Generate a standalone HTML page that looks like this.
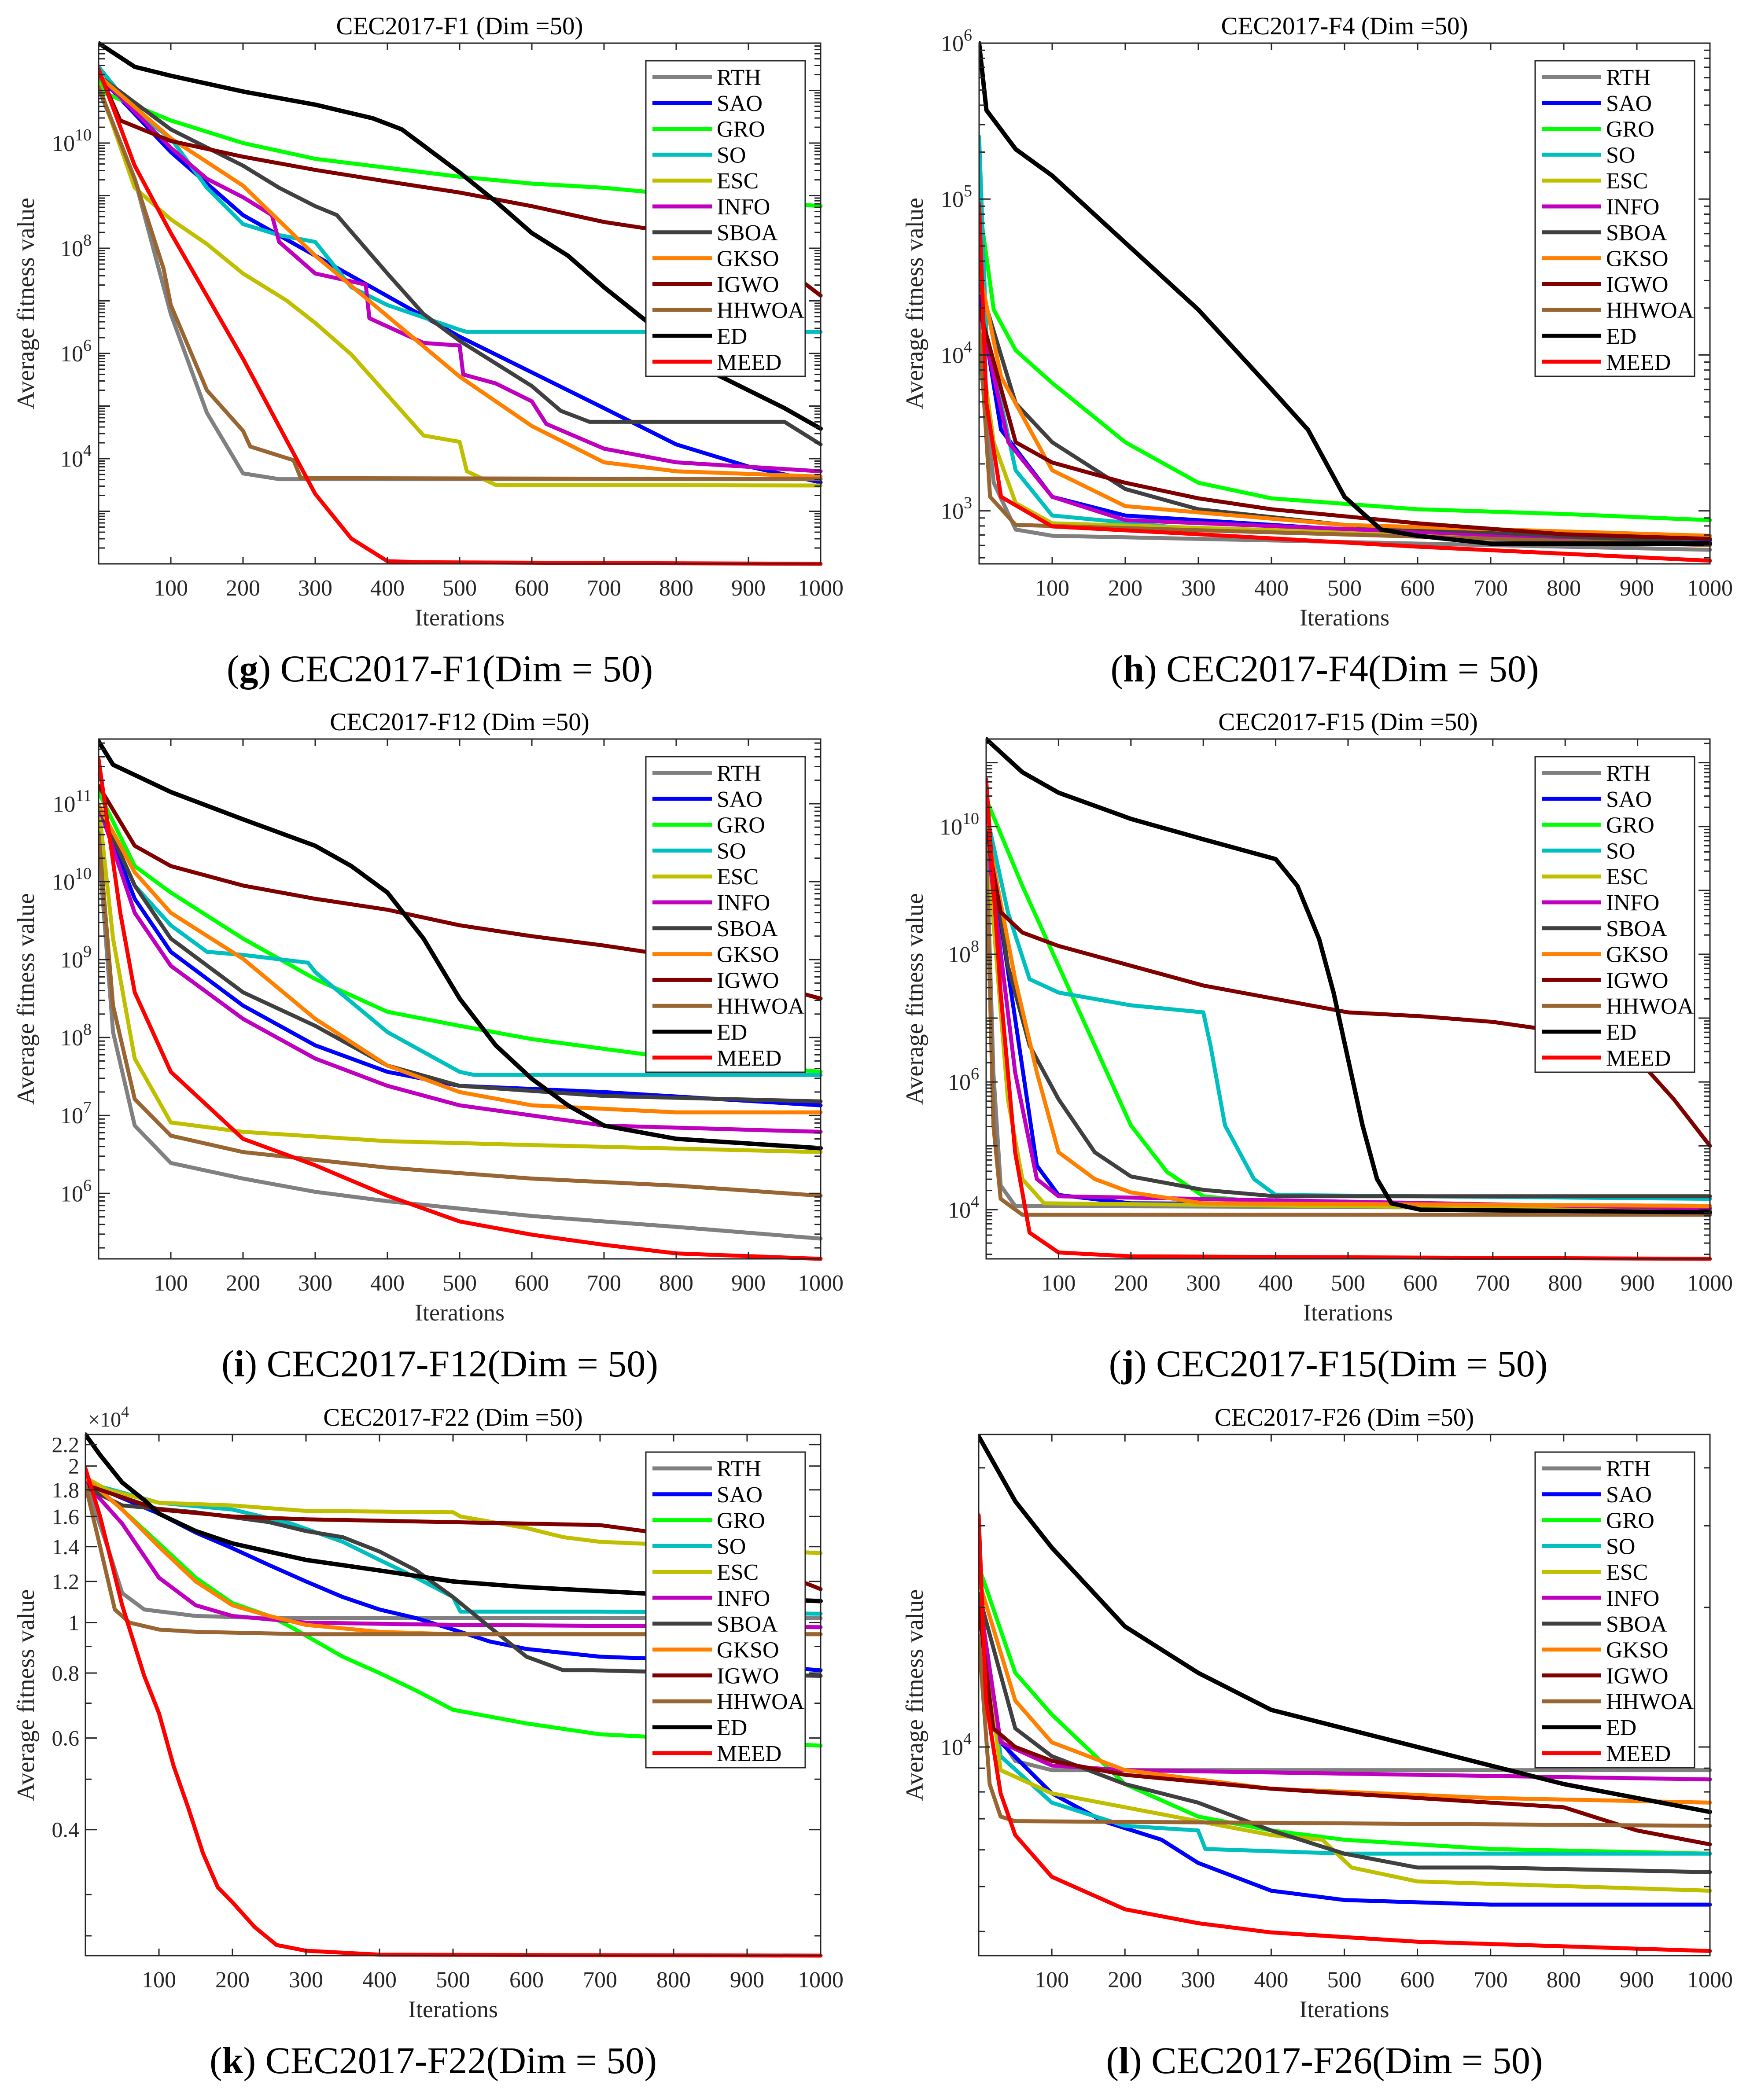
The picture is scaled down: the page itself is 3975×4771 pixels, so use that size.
<!DOCTYPE html>
<html><head><meta charset="utf-8"><title>CEC2017 convergence curves</title>
<style>html,body{margin:0;padding:0;background:#fff;}svg{display:block;}</style></head>
<body>
<svg id="fig" xmlns="http://www.w3.org/2000/svg" width="3975" height="4771" viewBox="0 0 3975 4771" font-family="'Liberation Serif', serif"></svg>
<script>
// ---------- data (iteration, log10 value) ----------
const ALGS = ['RTH','SAO','GRO','SO','ESC','INFO','SBOA','GKSO','IGWO','HHWOA','ED','MEED'];
const X_TICKS = [100,200,300,400,500,600,700,800,900,1000];

// F1
const F1_RTH = [[0,11.03],[50,9.32],[100,6.75],[150,4.87],[200,3.72],[250,3.61],[1000,3.61]];
const F1_SAO = [[0,11.28],[100,9.83],[200,8.63],[300,7.86],[400,7.09],[500,6.32],[600,5.64],[700,4.96],[800,4.27],[900,3.85],[1000,3.55]];
const F1_GRO = [[0,11.2],[10,10.94],[100,10.43],[200,10.0],[300,9.7],[400,9.53],[500,9.36],[600,9.23],[700,9.15],[800,9.02],[1000,8.8]];
const F1_SO = [[0,11.45],[50,10.6],[100,10.09],[150,9.15],[200,8.46],[250,8.25],[300,8.12],[310,7.95],[350,7.26],[400,6.92],[500,6.45],[510,6.41],[1000,6.41]];
const F1_ESC = [[0,11.11],[50,9.15],[100,8.55],[150,8.08],[200,7.52],[260,7.01],[300,6.58],[350,5.98],[400,5.21],[450,4.44],[500,4.32],[510,3.76],[550,3.5],[1000,3.49]];
const F1_INFO = [[0,11.28],[100,9.91],[150,9.32],[200,8.97],[240,8.63],[250,8.12],[300,7.52],[370,7.31],[375,6.67],[450,6.2],[500,6.15],[505,5.6],[550,5.43],[600,5.09],[620,4.66],[700,4.19],[800,3.93],[1000,3.76]];
const F1_SBOA = [[0,11.28],[100,10.26],[200,9.57],[250,9.15],[300,8.8],[330,8.63],[400,7.52],[450,6.75],[500,6.24],[550,5.81],[600,5.38],[640,4.91],[680,4.7],[950,4.7],[1000,4.27]];
const F1_GKSO = [[0,11.28],[100,10.09],[200,9.19],[300,7.86],[400,6.71],[500,5.56],[600,4.62],[700,3.93],[800,3.76],[1000,3.66]];
const F1_IGWO = [[0,11.37],[30,10.43],[100,10.04],[200,9.74],[300,9.49],[400,9.27],[500,9.06],[600,8.8],[700,8.5],[800,8.29],[900,8.1],[960,7.52],[1000,7.1]];
const F1_HHWOA = [[0,11.07],[50,9.32],[90,7.61],[100,6.92],[150,5.3],[200,4.53],[210,4.23],[270,3.97],[280,3.63],[1000,3.61]];
const F1_ED = [[0,11.9],[50,11.45],[100,11.28],[200,10.98],[300,10.73],[380,10.47],[420,10.26],[500,9.44],[550,8.89],[600,8.29],[650,7.86],[700,7.26],[750,6.71],[850,5.64],[900,5.3],[950,4.96],[1000,4.57]];
const F1_MEED = [[0,11.41],[50,9.57],[100,8.29],[200,5.9],[300,3.33],[350,2.48],[400,2.05],[450,2.03],[1000,2.0]];

// F4
const F4_RTH = [[0,4.03],[20,3.18],[50,2.88],[100,2.84],[1000,2.75]];
const F4_SAO = [[0,4.38],[30,3.52],[100,3.09],[200,2.97],[500,2.88],[1000,2.81]];
const F4_GRO = [[0,4.97],[20,4.29],[50,4.03],[100,3.82],[200,3.44],[300,3.18],[400,3.08],[600,3.01],[800,2.98],[1000,2.94]];
const F4_SO = [[0,5.4],[10,4.12],[50,3.26],[100,2.97],[300,2.88],[1000,2.82]];
const F4_ESC = [[0,4.12],[20,3.44],[50,3.05],[100,2.92],[1000,2.79]];
const F4_INFO = [[0,4.29],[40,3.44],[100,3.09],[200,2.94],[1000,2.79]];
const F4_SBOA = [[0,4.46],[50,3.69],[100,3.44],[200,3.14],[300,3.01],[500,2.91],[1000,2.79]];
const F4_GKSO = [[0,4.55],[30,3.86],[100,3.26],[200,3.03],[500,2.91],[1000,2.84]];
const F4_IGWO = [[0,4.3],[50,3.44],[100,3.31],[200,3.18],[300,3.08],[400,3.01],[600,2.92],[800,2.85],[1000,2.82]];
const F4_HHWOA = [[0,4.2],[15,3.09],[50,2.91],[1000,2.78]];
const F4_ED = [[0,6.0],[10,5.57],[50,5.32],[100,5.15],[200,4.72],[300,4.29],[400,3.78],[450,3.52],[500,3.09],[550,2.88],[600,2.84],[700,2.79],[1000,2.79]];
const F4_MEED = [[0,4.97],[10,3.69],[30,3.09],[100,2.9],[300,2.85],[600,2.77],[1000,2.68]];

// F12
const F12_RTH = [[0,10.46],[20,8.07],[50,6.87],[100,6.39],[200,6.19],[300,6.02],[400,5.9],[600,5.71],[800,5.57],[1000,5.42]];
const F12_SAO = [[0,10.98],[50,9.78],[100,9.1],[200,8.41],[300,7.9],[400,7.56],[500,7.38],[700,7.3],[1000,7.13]];
const F12_GRO = [[0,11.15],[50,10.2],[100,9.86],[200,9.27],[300,8.75],[400,8.33],[500,8.15],[600,7.98],[800,7.73],[1000,7.56]];
const F12_SO = [[0,10.98],[50,9.95],[100,9.44],[150,9.1],[200,9.06],[290,8.96],[300,8.84],[400,8.07],[500,7.56],[520,7.52],[1000,7.52]];
const F12_ESC = [[0,10.98],[20,9.27],[50,7.73],[100,6.91],[200,6.79],[400,6.67],[600,6.62],[1000,6.53]];
const F12_INFO = [[0,10.98],[50,9.6],[100,8.92],[200,8.24],[300,7.73],[400,7.38],[500,7.13],[700,6.87],[1000,6.79]];
const F12_SBOA = [[0,10.98],[50,9.95],[100,9.27],[200,8.58],[300,8.15],[400,7.64],[500,7.38],[700,7.25],[1000,7.18]];
const F12_GKSO = [[0,10.98],[50,10.12],[100,9.6],[200,9.01],[300,8.24],[400,7.64],[500,7.3],[600,7.13],[800,7.04],[1000,7.04]];
const F12_IGWO = [[0,11.23],[50,10.46],[100,10.2],[200,9.95],[300,9.78],[400,9.64],[500,9.44],[600,9.3],[700,9.18],[800,9.04],[900,8.75],[1000,8.5]];
const F12_HHWOA = [[0,10.63],[20,8.41],[50,7.21],[100,6.74],[200,6.53],[400,6.33],[600,6.19],[800,6.1],[1000,5.97]];
const F12_ED = [[0,11.8],[20,11.5],[100,11.15],[200,10.8],[300,10.46],[350,10.2],[400,9.86],[450,9.27],[500,8.5],[550,7.9],[600,7.47],[650,7.13],[700,6.87],[800,6.7],[1000,6.58]];
const F12_MEED = [[0,11.57],[30,9.6],[50,8.58],[100,7.56],[200,6.7],[300,6.36],[400,5.97],[500,5.64],[600,5.47],[700,5.34],[800,5.23],[1000,5.16]];

// F15
const F15_RTH = [[0,9.91],[10,6.15],[20,4.38],[40,4.06],[1000,4.02]];
const F15_SAO = [[0,10.01],[40,6.99],[70,4.69],[100,4.23],[200,4.1],[1000,4.06]];
const F15_GRO = [[0,10.43],[50,9.07],[100,7.82],[150,6.57],[200,5.32],[250,4.59],[300,4.21],[400,4.1],[1000,4.0]];
const F15_SO = [[0,10.22],[30,8.66],[60,7.61],[100,7.4],[200,7.2],[300,7.09],[310,6.57],[330,5.32],[370,4.48],[400,4.23],[1000,4.17]];
const F15_ESC = [[0,9.91],[30,5.73],[50,4.48],[80,4.1],[1000,4.0]];
const F15_INFO = [[0,9.91],[40,6.15],[70,4.48],[100,4.21],[1000,4.02]];
const F15_SBOA = [[0,10.12],[30,7.82],[60,6.57],[100,5.73],[150,4.9],[200,4.52],[300,4.31],[400,4.21],[1000,4.21]];
const F15_GKSO = [[0,10.01],[40,7.61],[70,6.15],[100,4.9],[150,4.48],[200,4.27],[300,4.1],[1000,4.06]];
const F15_IGWO = [[0,9.91],[20,8.66],[50,8.34],[100,8.13],[200,7.82],[300,7.51],[400,7.3],[500,7.09],[600,7.03],[700,6.94],[800,6.78],[900,6.36],[950,5.73],[1000,5.0]];
const F15_HHWOA = [[0,9.7],[10,5.32],[20,4.17],[50,3.92],[1000,3.92]];
const F15_ED = [[0,11.37],[50,10.85],[100,10.53],[200,10.12],[300,9.8],[400,9.49],[430,9.07],[460,8.24],[480,7.4],[500,6.36],[520,5.32],[540,4.48],[560,4.1],[600,4.0],[1000,3.96]];
const F15_MEED = [[0,10.74],[20,7.4],[40,4.9],[60,3.64],[100,3.33],[200,3.27],[1000,3.23]];

// F22 (values x 10^4)
const F22_RTH = [[0,1.86],[30,1.4],[50,1.14],[80,1.06],[150,1.03],[250,1.02],[1000,1.02]];
const F22_SAO = [[0,1.86],[100,1.62],[150,1.49],[200,1.39],[250,1.29],[300,1.2],[350,1.12],[400,1.06],[450,1.02],[500,0.97],[550,0.92],[600,0.89],[700,0.86],[800,0.85],[1000,0.81]];
const F22_GRO = [[0,1.9],[50,1.65],[100,1.42],[150,1.22],[200,1.09],[250,1.03],[280,0.98],[350,0.86],[400,0.8],[450,0.74],[500,0.68],[600,0.64],[700,0.61],[800,0.6],[1000,0.58]];
const F22_SO = [[0,1.86],[100,1.7],[200,1.65],[280,1.55],[350,1.43],[400,1.32],[450,1.22],[500,1.12],[510,1.05],[700,1.05],[1000,1.04]];
const F22_ESC = [[0,1.9],[30,1.8],[100,1.7],[200,1.68],[300,1.64],[500,1.63],[510,1.6],[600,1.52],[650,1.46],[700,1.43],[800,1.41],[1000,1.36]];
const F22_INFO = [[0,1.86],[50,1.55],[100,1.22],[150,1.08],[200,1.03],[300,1.0],[500,0.99],[1000,0.98]];
const F22_SBOA = [[0,1.82],[50,1.68],[150,1.63],[250,1.56],[300,1.5],[350,1.46],[400,1.37],[450,1.26],[500,1.12],[550,0.98],[600,0.86],[650,0.81],[690,0.81],[1000,0.79]];
const F22_GKSO = [[0,1.9],[50,1.65],[100,1.4],[150,1.2],[200,1.08],[250,1.03],[300,0.99],[400,0.96],[500,0.95],[1000,0.95]];
const F22_IGWO = [[0,1.84],[100,1.65],[200,1.6],[300,1.58],[500,1.56],[600,1.55],[700,1.54],[760,1.5],[900,1.32],[1000,1.16]];
const F22_HHWOA = [[0,1.84],[20,1.4],[40,1.06],[60,1.0],[100,0.97],[150,0.96],[300,0.95],[1000,0.95]];
const F22_ED = [[0,2.3],[20,2.1],[50,1.86],[80,1.72],[100,1.62],[150,1.5],[200,1.42],[300,1.32],[400,1.26],[500,1.2],[600,1.17],[700,1.15],[800,1.13],[1000,1.1]];
const F22_MEED = [[0,1.98],[20,1.6],[50,1.08],[80,0.79],[100,0.67],[120,0.53],[140,0.44],[160,0.36],[180,0.31],[200,0.29],[230,0.26],[260,0.24],[300,0.234],[400,0.23],[1000,0.229]];

// F26
const F26_RTH = [[0,4.33],[20,4.04],[50,3.97],[100,3.95],[1000,3.95]];
const F26_SAO = [[0,4.3],[30,4.01],[100,3.9],[170,3.84],[250,3.8],[300,3.75],[400,3.69],[500,3.67],[700,3.66],[1000,3.66]];
const F26_GRO = [[0,4.39],[50,4.16],[100,4.07],[200,3.92],[300,3.85],[400,3.82],[500,3.8],[700,3.78],[1000,3.77]];
const F26_SO = [[0,4.33],[30,3.98],[100,3.88],[200,3.83],[300,3.82],[310,3.78],[500,3.77],[1000,3.77]];
const F26_ESC = [[0,4.33],[30,3.95],[100,3.9],[200,3.87],[300,3.84],[400,3.81],[470,3.8],[510,3.74],[600,3.71],[800,3.7],[1000,3.69]];
const F26_INFO = [[0,4.33],[30,4.01],[100,3.96],[200,3.95],[1000,3.93]];
const F26_SBOA = [[0,4.33],[50,4.04],[100,3.98],[200,3.92],[300,3.88],[400,3.82],[500,3.77],[600,3.74],[700,3.74],[1000,3.73]];
const F26_GKSO = [[0,4.36],[50,4.1],[100,4.01],[200,3.95],[400,3.91],[700,3.89],[1000,3.88]];
const F26_IGWO = [[0,4.3],[20,4.04],[50,4.0],[100,3.97],[200,3.94],[400,3.91],[600,3.89],[800,3.87],[900,3.82],[1000,3.79]];
const F26_HHWOA = [[0,4.24],[15,3.92],[30,3.85],[50,3.84],[1000,3.83]];
const F26_ED = [[0,4.67],[50,4.53],[100,4.43],[200,4.26],[300,4.16],[400,4.08],[500,4.04],[600,4.0],[700,3.96],[800,3.92],[900,3.89],[1000,3.86]];
const F26_MEED = [[0,4.5],[10,4.1],[30,3.9],[50,3.81],[100,3.72],[200,3.65],[300,3.62],[400,3.6],[600,3.58],[800,3.57],[1000,3.56]];

const F1_LABELS = [4,6,8,10];
const F4_LABELS = [3,4,5,6];
const F12_LABELS = [6,7,8,9,10,11];
const F15_LABELS = [4,6,8,10];
const F22_LABELS = [0.4,0.6,0.8,1,1.2,1.4,1.6,1.8,2,2.2];
const F22_LABEL_TEXT = ['0.4','0.6','0.8','1','1.2','1.4','1.6','1.8','2','2.2'];
const F26_LABELS = [4];

// ---------- layout ----------
const COLORS = {RTH:'#808080',SAO:'#0000ff',GRO:'#00ff00',SO:'#00bfbf',ESC:'#bfbf00',INFO:'#bf00bf',SBOA:'#404040',GKSO:'#ff8000',IGWO:'#800000',HHWOA:'#996633',ED:'#000000',MEED:'#ff0000'};
const NS = 'http://www.w3.org/2000/svg';
const svg = document.getElementById('fig');
function mk(tag, attrs, parent){const e=document.createElementNS(NS,tag);for(const k in attrs)e.setAttribute(k,attrs[k]);(parent||svg).appendChild(e);return e;}

const PANELS = [
 {id:'f1', title:'CEC2017-F1 (Dim =50)', letter:'g', cap:' CEC2017-F1(Dim = 50)', x0:224,x1:1864,y0:98,y1:1281, lmin:2.0,lmax:11.9, kind:'exp', labels:F1_LABELS,
  data:{RTH:F1_RTH,SAO:F1_SAO,GRO:F1_GRO,SO:F1_SO,ESC:F1_ESC,INFO:F1_INFO,SBOA:F1_SBOA,GKSO:F1_GKSO,IGWO:F1_IGWO,HHWOA:F1_HHWOA,ED:F1_ED,MEED:F1_MEED}},
 {id:'f4', title:'CEC2017-F4 (Dim =50)', letter:'h', cap:' CEC2017-F4(Dim = 50)', x0:2224,x1:3884,y0:98,y1:1281, lmin:2.66,lmax:6.0, kind:'exp', labels:F4_LABELS,
  data:{RTH:F4_RTH,SAO:F4_SAO,GRO:F4_GRO,SO:F4_SO,ESC:F4_ESC,INFO:F4_INFO,SBOA:F4_SBOA,GKSO:F4_GKSO,IGWO:F4_IGWO,HHWOA:F4_HHWOA,ED:F4_ED,MEED:F4_MEED}},
 {id:'f12', title:'CEC2017-F12 (Dim =50)', letter:'i', cap:' CEC2017-F12(Dim = 50)', x0:224,x1:1864,y0:1679,y1:2860, lmin:5.16,lmax:11.83, kind:'exp', labels:F12_LABELS,
  data:{RTH:F12_RTH,SAO:F12_SAO,GRO:F12_GRO,SO:F12_SO,ESC:F12_ESC,INFO:F12_INFO,SBOA:F12_SBOA,GKSO:F12_GKSO,IGWO:F12_IGWO,HHWOA:F12_HHWOA,ED:F12_ED,MEED:F12_MEED}},
 {id:'f15', title:'CEC2017-F15 (Dim =50)', letter:'j', cap:' CEC2017-F15(Dim = 50)', x0:2240,x1:3884,y0:1679,y1:2860, lmin:3.23,lmax:11.37, kind:'exp', labels:F15_LABELS,
  data:{RTH:F15_RTH,SAO:F15_SAO,GRO:F15_GRO,SO:F15_SO,ESC:F15_ESC,INFO:F15_INFO,SBOA:F15_SBOA,GKSO:F15_GKSO,IGWO:F15_IGWO,HHWOA:F15_HHWOA,ED:F15_ED,MEED:F15_MEED}},
 {id:'f22', title:'CEC2017-F22 (Dim =50)', letter:'k', cap:' CEC2017-F22(Dim = 50)', x0:194,x1:1864,y0:3259,y1:4443, lmin:Math.log10(0.229),lmax:Math.log10(2.30), kind:'lin', labels:F22_LABELS,
  data:{RTH:F22_RTH,SAO:F22_SAO,GRO:F22_GRO,SO:F22_SO,ESC:F22_ESC,INFO:F22_INFO,SBOA:F22_SBOA,GKSO:F22_GKSO,IGWO:F22_IGWO,HHWOA:F22_HHWOA,ED:F22_ED,MEED:F22_MEED}},
 {id:'f26', title:'CEC2017-F26 (Dim =50)', letter:'l', cap:' CEC2017-F26(Dim = 50)', x0:2223,x1:3884,y0:3259,y1:4443, lmin:3.55,lmax:4.674, kind:'exp', labels:F26_LABELS,
  data:{RTH:F26_RTH,SAO:F26_SAO,GRO:F26_GRO,SO:F26_SO,ESC:F26_ESC,INFO:F26_INFO,SBOA:F26_SBOA,GKSO:F26_GKSO,IGWO:F26_IGWO,HHWOA:F26_HHWOA,ED:F26_ED,MEED:F26_MEED}}
];
const AX = '#262626';

PANELS.forEach(function(p){
  const g = mk('g',{});
  
  
  const W = p.x1-p.x0, H = p.y1-p.y0;
  const xs = function(it){return p.x0 + it/1000*W;};
  const ys = function(l){return p.y0 + (p.lmax-l)/(p.lmax-p.lmin)*H;};
  const yv = function(v){return p.kind==='lin' ? ys(Math.log10(v)) : ys(v);};
  const cx = (p.x0+p.x1)/2;

  const t = mk('text',{x:cx,y:p.y0-20,'text-anchor':'middle','font-size':57,fill:'#000'},g);
  t.textContent = p.title;
  
  

  const cp = mk('clipPath',{id:'clip-'+p.id},g);
  mk('rect',{x:p.x0,y:p.y0-6,width:W+6,height:H+12},cp);

  const sg = mk('g',{'clip-path':'url(#clip-'+p.id+')'},g);
  ALGS.forEach(function(a){
    const pts = p.data[a].map(function(d){return xs(d[0]).toFixed(1)+','+yv(d[1]).toFixed(1);}).join(' ');
    const pl = mk('polyline',{points:pts,fill:'none',stroke:COLORS[a],'stroke-width':a==='ED'?10:9,'stroke-linejoin':'round','stroke-linecap':'round'},sg);
    
    
  });

  const box = mk('rect',{x:p.x0,y:p.y0,width:W,height:H,fill:'none',stroke:AX,'stroke-width':3},g);
  
  

  X_TICKS.forEach(function(it){
    const x = xs(it);
    mk('line',{x1:x,y1:p.y1,x2:x,y2:p.y1-16,stroke:AX,'stroke-width':3},g);
    mk('line',{x1:x,y1:p.y0,x2:x,y2:p.y0+16,stroke:AX,'stroke-width':3},g);
    const tl = mk('text',{x:x,y:p.y1+72,'text-anchor':'middle','font-size':52,fill:'#262626'},g);
    tl.textContent = String(it);
    
    
  });
  const xl = mk('text',{x:cx,y:p.y1+140,'text-anchor':'middle','font-size':54,fill:'#262626'},g);
  xl.textContent = 'Iterations';
  
  

  function ytick(y, len){
    mk('line',{x1:p.x0,y1:y,x2:p.x0+len,y2:y,stroke:AX,'stroke-width':3},g);
    mk('line',{x1:p.x1,y1:y,x2:p.x1-len,y2:y,stroke:AX,'stroke-width':3},g);
  }
  if(p.kind==='exp'){
    for(let d=Math.floor(p.lmin); d<=Math.ceil(p.lmax); d++){
      for(let m=1; m<10; m++){
        const l = d+Math.log10(m);
        if(l<p.lmin-1e-6||l>p.lmax+1e-6) continue;
        ytick(ys(l), m===1?26:14);
      }
    }
    p.labels.forEach(function(e){
      const y = ys(e);
      const yl = mk('text',{x:p.x0-16,y:y+18,'text-anchor':'end','font-size':52,fill:'#262626'},g);
      const b = mk('tspan',{},yl); b.textContent='10';
      const s = mk('tspan',{dy:-24,'font-size':38},yl); s.textContent=String(e);
      
      
    });
  } else {
    p.labels.forEach(function(v,i){
      const y = yv(v);
      ytick(y,26);
      const yl = mk('text',{x:p.x0-14,y:y+17,'text-anchor':'end','font-size':50,fill:'#262626'},g);
      yl.textContent = F22_LABEL_TEXT[i];
      
      
    });
    [0.3,0.5,0.7,0.9,0.25].forEach(function(v){ytick(yv(v),14);});
    const ex = mk('text',{x:p.x0+6,y:p.y0-18,'font-size':48,fill:'#262626'},g);
    const e1 = mk('tspan',{},ex); e1.textContent='\u00d710';
    const e2 = mk('tspan',{dy:-22,'font-size':36},ex); e2.textContent='4';
    
    
  }
  const ylx = p.x0 < 1000 ? 64 : 2083;
  const yt = mk('text',{x:ylx,y:(p.y0+p.y1)/2,'text-anchor':'middle','font-size':56,fill:'#262626',transform:'rotate(-90 '+ylx+' '+((p.y0+p.y1)/2)+')','dominant-baseline':'middle'},g);
  yt.textContent = 'Average fitness value';
  
  

  const lx = p.x1-35-362, ly = p.y0+40;
  const lg = mk('g',{},g);
  
  
  mk('rect',{x:lx,y:ly,width:362,height:717,fill:'#fff',stroke:AX,'stroke-width':3},lg);
  ALGS.forEach(function(a,i){
    const cy = ly+37+i*58.8;
    const le = mk('g',{},lg);
    
    
    mk('line',{x1:lx+15,y1:cy,x2:lx+150,y2:cy,stroke:COLORS[a],'stroke-width':9},le);
    const tx = mk('text',{x:lx+161,y:cy+18,'font-size':52,fill:'#000'},le);
    tx.textContent = a;
  });

  const c = mk('text',{x:cx-45,y:p.y1+267,'text-anchor':'middle','font-size':86,fill:'#000'},g);
  const c1 = mk('tspan',{},c); c1.textContent='(';
  const c2 = mk('tspan',{'font-weight':'bold'},c); c2.textContent=p.letter;
  const c3 = mk('tspan',{},c); c3.textContent=')'+p.cap;
  
  
});
</script>
</body></html>
